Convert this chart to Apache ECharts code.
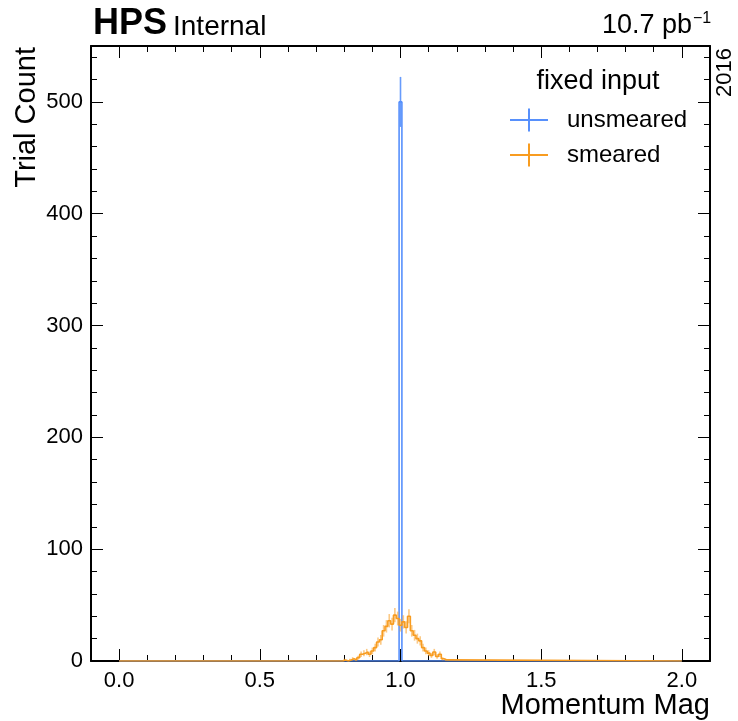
<!DOCTYPE html>
<html>
<head>
<meta charset="utf-8">
<script src="https://cdn.jsdelivr.net/npm/echarts@6/dist/echarts.min.js"></script>
<style>
    html, body { margin: 0; padding: 0; background: #fff; }
    #chart { width: 738px; height: 721px; }
</style>
</head>
<body>
<div id="chart"></div>
<script>
// histogram binning
var binWidth = 0.01;
var histRange = [0, 2];

// unsmeared: everything lands in the bin at 1.0
var unsmearedCenters = [1.0];
var unsmearedCounts = [500];

// smeared, bin by bin
var smearedCenters = [0.80, 0.81, 0.82, 0.83, 0.84, 0.85, 0.86, 0.87, 0.88, 0.89,
    0.90, 0.91, 0.92, 0.93, 0.94, 0.95, 0.96, 0.97, 0.98, 0.99,
    1.00, 1.01, 1.02, 1.03, 1.04, 1.05, 1.06, 1.07, 1.08, 1.09,
    1.10, 1.11, 1.12, 1.13, 1.14, 1.15, 1.16];
var smearedCounts = [1, 0, 1, 2, 1, 3, 6, 7, 8, 6,
    9, 12, 17, 19, 27, 31, 36, 33, 41, 38,
    32, 35, 30, 40, 27, 23, 20, 18, 12, 9,
    7, 5, 8, 4, 6, 2, 1];

// ticks
var xMajorTicks = [0, 0.5, 1.0, 1.5, 2.0];
var xMinorTicks = [0.1, 0.2, 0.3, 0.4, 0.6, 0.7, 0.8, 0.9, 1.1, 1.2, 1.3, 1.4, 1.6, 1.7, 1.8, 1.9];
var yMajorTicks = [0, 100, 200, 300, 400, 500];
var yMinorTicks = [20, 40, 60, 80, 120, 140, 160, 180, 220, 240, 260, 280,
    320, 340, 360, 380, 420, 440, 460, 480, 520, 540];

var BLUE = '#5790fc';
var ORANGE = '#f89c20';
var FONT = '"Liberation Sans", Arial, sans-serif';

/**
 * 直方图外轮廓(step)
 */
function stepPath(centers, counts) {
    var pts = [[histRange[0], 0]];
    pts.push([centers[0] - binWidth / 2, 0]);
    for (var i = 0; i < centers.length; i++) {
        pts.push([centers[i] - binWidth / 2, counts[i]]);
        pts.push([centers[i] + binWidth / 2, counts[i]]);
    }
    pts.push([centers[centers.length - 1] + binWidth / 2, 0]);
    pts.push([histRange[1], 0]);
    return pts;
}

/**
 * sqrt(N) 误差棒
 */
function errorData(centers, counts) {
    var out = [];
    for (var i = 0; i < centers.length; i++) {
        if (counts[i] <= 0) continue;
        var e = Math.sqrt(counts[i]);
        out.push([centers[i], counts[i] - e, counts[i] + e]);
    }
    return out;
}

function errorSeries(name, centers, counts, color, opacity) {
    return {
        name: name + ' err',
        type: 'custom',
        data: errorData(centers, counts),
        encode: {x: 0, y: [1, 2]},
        z: 3,
        silent: true,
        renderItem: function (params, api) {
            var p1 = api.coord([api.value(0), api.value(1)]);
            var p2 = api.coord([api.value(0), api.value(2)]);
            return {
                type: 'line',
                shape: {x1: p1[0], y1: p1[1], x2: p2[0], y2: p2[1]},
                style: {stroke: color, lineWidth: 1.6, opacity: opacity}
            };
        }
    };
}

function xAxis(position, ticks, len, withLine, withLabels) {
    return {
        type: 'value',
        position: position,
        min: -0.1,
        max: 2.1,
        splitLine: {show: false},
        axisLine: {show: withLine, onZero: false, lineStyle: {color: '#000', width: 2}},
        axisTick: {show: true, inside: true, length: len, customValues: ticks,
            lineStyle: {color: '#000', width: 1}},
        axisLabel: withLabels ? {
            show: true, customValues: ticks, margin: 9,
            fontFamily: FONT, fontSize: 22, color: '#000',
            formatter: function (v) { return v.toFixed(1); }
        } : {show: false}
    };
}

function yAxis(position, ticks, len, withLine, withLabels) {
    return {
        type: 'value',
        position: position,
        min: 0,
        max: 550,
        splitLine: {show: false},
        axisLine: {show: withLine, onZero: false, lineStyle: {color: '#000', width: 2}},
        axisTick: {show: true, inside: true, length: len, customValues: ticks,
            lineStyle: {color: '#000', width: 1}},
        axisLabel: withLabels ? {
            show: true, customValues: ticks, margin: 8,
            fontFamily: FONT, fontSize: 22, color: '#000'
        } : {show: false}
    };
}

var chart = echarts.init(document.getElementById('chart'));

var crossIcon = 'path://M0,10.5h38v2h-38z M18,0h2v23h-2z';

var option = {
    animation: false,
    backgroundColor: '#fff',
    grid: {left: 91, right: 28, top: 46, bottom: 60, containLabel: false, outerBoundsMode: 'none'},
    xAxis: [
        xAxis('bottom', xMajorTicks, 12, true, true),
        xAxis('bottom', xMinorTicks, 6, false, false),
        xAxis('top', xMajorTicks, 12, true, false),
        xAxis('top', xMinorTicks, 6, false, false)
    ],
    yAxis: [
        yAxis('left', yMajorTicks, 12, true, true),
        yAxis('left', yMinorTicks, 6, false, false),
        yAxis('right', yMajorTicks, 12, true, false),
        yAxis('right', yMinorTicks, 6, false, false)
    ],
    legend: {
        data: ['unsmeared', 'smeared'],
        orient: 'vertical',
        left: 510,
        top: 108,
        padding: 0,
        itemWidth: 38,
        itemHeight: 23,
        itemGap: 11,
        icon: crossIcon,
        selectedMode: false,
        itemStyle: {borderWidth: 0},
        textStyle: {fontFamily: FONT, fontSize: 24, color: '#000', padding: [0, 0, 0, 14]}
    },
    graphic: [
        {type: 'text', x: 93, y: 24, style: {text: 'HPS', fontFamily: FONT, fontWeight: 'bold',
            fontSize: 36, fill: '#000', verticalAlign: 'middle'}},
        {type: 'text', x: 173, y: 27, style: {text: 'Internal', fontFamily: FONT,
            fontSize: 28, fill: '#000', verticalAlign: 'middle'}},
        {type: 'text', x: 692, y: 26, style: {text: '10.7 pb', fontFamily: FONT,
            fontSize: 27, fill: '#000', align: 'right', verticalAlign: 'middle'}},
        {type: 'text', x: 693, y: 19, style: {text: '\u22121', fontFamily: FONT,
            fontSize: 16, fill: '#000', align: 'left', verticalAlign: 'middle'}},
        {type: 'text', x: 725, y: 48, rotation: Math.PI / 2, style: {text: '2016', fontFamily: FONT,
            fontSize: 22, fill: '#000', align: 'right', verticalAlign: 'middle'}},
        {type: 'text', x: 27, y: 47, rotation: Math.PI / 2, style: {text: 'Trial Count', fontFamily: FONT,
            fontSize: 29, fill: '#000', align: 'right', verticalAlign: 'middle'}},
        {type: 'text', x: 710, y: 706, style: {text: 'Momentum Mag', fontFamily: FONT,
            fontSize: 29, fill: '#000', align: 'right', verticalAlign: 'middle'}},
        {type: 'text', x: 598, y: 82, style: {text: 'fixed input', fontFamily: FONT,
            fontSize: 27, fill: '#000', align: 'center', verticalAlign: 'middle'}}
    ],
    series: [
        {
            name: 'unsmeared',
            type: 'line',
            color: BLUE,
            data: stepPath(unsmearedCenters, unsmearedCounts),
            showSymbol: false,
            symbol: 'none',
            lineStyle: {color: BLUE, width: 1.6},
            z: 2
        },
        {
            name: 'smeared',
            type: 'line',
            color: ORANGE,
            data: stepPath(smearedCenters, smearedCounts),
            showSymbol: false,
            symbol: 'none',
            lineStyle: {color: ORANGE, width: 1.6},
            z: 2
        },
        errorSeries('unsmeared', unsmearedCenters, unsmearedCounts, BLUE, 0.9),
        errorSeries('smeared', smearedCenters, smearedCounts, ORANGE, 0.55)
    ]
};

chart.setOption(option);
</script>
</body>
</html>
